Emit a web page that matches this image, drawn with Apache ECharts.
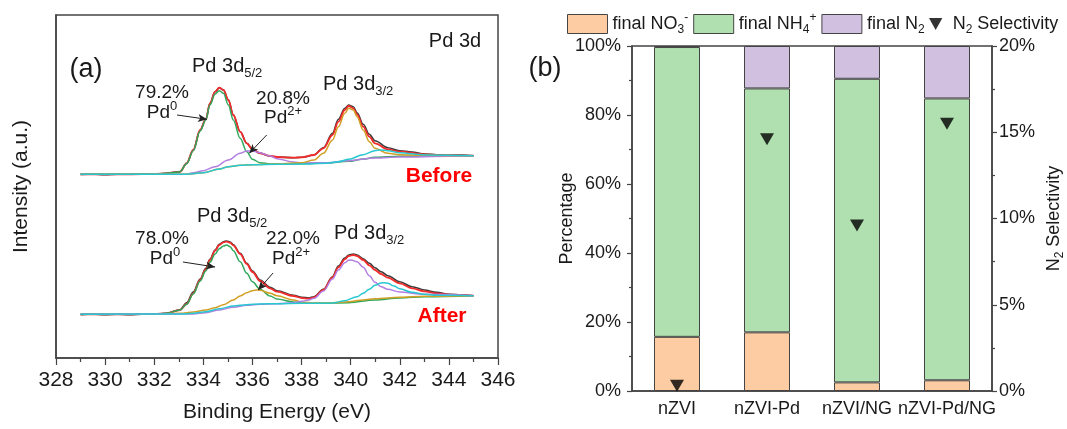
<!DOCTYPE html>
<html>
<head>
<meta charset="utf-8">
<script src="https://cdn.jsdelivr.net/npm/echarts@6/dist/echarts.min.js"></script>
<style>html,body{margin:0;padding:0;background:#fff}#c{width:1067px;height:429px}</style>
</head>
<body>
<div id="c"></div>
<script>
// ---------- Panel (a): XPS Pd 3d, [binding energy eV, intensity a.u.] ----------
const beforeRaw = [[329,183.5],[329.5,184],[330,183.3],[330.5,183.8],[331,183.7],[331.5,184],[332,183.7],[332.5,184.7],[333.05,186.3],[333.32,194.7],[333.59,208],[333.87,228],[334.1,238.7],[334.27,254.7],[334.48,266.3],[334.65,270.3],[334.82,268],[335.02,258],[335.22,243],[335.5,226.3],[335.77,214.7],[336,208.7],[336.31,204.7],[336.72,202],[337,201],[337.67,200.3],[338.01,200.7],[338.5,203],[338.89,210.3],[339.26,224.7],[339.5,238.7],[339.76,249.7],[339.92,253],[340.11,251.3],[340.26,245.3],[340.51,233.7],[340.76,223.7],[340.99,217.3],[341.51,210.3],[342,207.3],[342.5,206],[343,204],[343.5,203.3],[344,202.7],[344.5,203],[345,202.3]];
const beforeFit = [[329,183.7],[330,183.7],[331,183.7],[332,184],[332.5,184.7],[333.05,186.3],[333.32,194.7],[333.59,208],[333.87,228],[334.1,238.7],[334.27,254.7],[334.48,266.3],[334.65,270.3],[334.82,268],[335.02,258],[335.22,243],[335.5,226.3],[335.77,214.7],[336,208.7],[336.31,204.7],[336.72,202],[337,201],[337.67,200.3],[338.01,200.7],[338.5,203],[338.89,209.7],[339.26,223],[339.5,236.3],[339.76,248],[339.92,252],[340.11,249.7],[340.26,243.7],[340.51,231.3],[340.76,221.3],[340.99,214.7],[341.51,208.7],[342,206.3],[343,203.7],[344,202.7],[345,202.3]];
const beforePd0_52 = [[329,183.7],[332,184],[332.5,184.7],[333.05,186.3],[333.32,194.3],[333.59,207.3],[333.87,227],[334.1,238],[334.27,253],[334.48,264],[334.65,267.3],[334.82,264.7],[335.02,253],[335.22,238],[335.5,219.7],[335.77,206.3],[336,198.7],[336.31,195.3],[336.72,194],[337,194],[338.01,194.3],[339,195],[339.92,196.7],[340.51,199],[340.99,200.7],[342,201.7],[343,202],[345,202.3]];
const beforePd2_52 = [[329,183.7],[333.32,183.7],[333.59,185.3],[334,187.3],[334.48,191.3],[335.02,198],[335.5,204.7],[335.77,207],[336,207],[336.31,205.3],[336.72,202],[337,199.3],[337.67,196],[338.01,195],[339,195.3],[339.92,197.3],[340.99,200],[342,201],[344,201.7],[345,202]];
const beforePd0_32 = [[329,183.7],[333.32,183.7],[334,185.3],[334.65,189],[335.02,191.3],[335.5,192.7],[336,193.3],[337,194],[338.01,195.3],[338.5,198],[338.89,204.7],[339.26,218],[339.5,231.3],[339.76,244.7],[339.92,249.7],[340.11,248],[340.26,241.3],[340.51,228],[340.76,216.3],[340.99,209.7],[341.51,204.7],[342,203.3],[343,202.7],[345,202.3]];
const beforePd2_32 = [[329,183.7],[333.32,183.7],[334,185.3],[334.65,189],[335.02,191.3],[335.5,192.7],[336,193.3],[337,193.7],[338.01,194],[339,194.7],[339.5,196.3],[339.92,198.7],[340.51,203.3],[340.99,207.3],[341.2,208],[341.51,207.3],[342,205.3],[343,203],[345,202.3]];

const afterRaw = [[329,43.3],[329.5,44],[330,43.2],[330.5,43.7],[331,43.3],[331.5,43.8],[332,43.7],[332.5,44.7],[333.05,48.3],[333.32,55.3],[333.59,66],[333.87,79],[334.1,89.7],[334.27,98.7],[334.48,108],[334.65,113.7],[334.82,116.3],[334.95,117],[335.09,116],[335.22,113.3],[335.5,104.7],[335.77,94.7],[336,87],[336.31,78],[336.72,70.7],[337,67.3],[337.67,62.7],[338.01,60.7],[338.3,60],[338.5,61.3],[338.89,68.7],[339.26,81.3],[339.5,92],[339.76,100],[339.92,103],[340.11,104],[340.26,103],[340.51,99.3],[340.76,94.7],[340.99,90.3],[341.24,86.3],[341.51,82.3],[342,76.3],[342.5,71.3],[343,68],[343.5,65.7],[344,63.7],[344.5,63],[345,62.3]];
const afterFit = [[329,43.7],[330,43.7],[331,43.7],[332,44],[332.5,44.7],[333.05,48],[333.32,54],[333.59,64.7],[333.87,78],[334.1,88.7],[334.27,98],[334.48,107.3],[334.65,113],[334.82,115.7],[334.95,116.3],[335.09,115.3],[335.22,112.7],[335.5,104],[335.77,94],[336,86],[336.31,77],[336.72,69.7],[337,66.3],[337.67,62],[338.01,60],[338.3,59.3],[338.5,60.7],[338.89,68],[339.26,80.7],[339.5,90.7],[339.76,98.7],[339.92,102],[340.11,103],[340.26,102],[340.51,98],[340.76,92.7],[340.99,88],[341.24,84],[341.51,80.3],[342,74.7],[342.5,69.7],[343,66.7],[343.5,64.7],[344,63.3],[345,62.3]];
const afterPd0_52 = [[329,43.7],[332,44],[332.5,44.7],[333.05,48],[333.32,53.7],[333.59,64],[333.87,77],[334.1,87],[334.27,95.7],[334.48,104],[334.65,109.3],[334.82,112],[334.95,113],[335.09,111.3],[335.22,107.3],[335.5,96.3],[335.77,84.7],[336,76.3],[336.31,68.7],[336.72,62],[337,59],[337.67,56],[338.01,55],[339,54.7],[339.92,55.3],[340.99,58],[342,60],[343,61.3],[345,62.3]];
const afterPd2_52 = [[329,43.7],[332,44],[333.05,44.7],[333.59,46],[334.1,48],[334.48,50.3],[334.82,53.3],[335.22,58],[335.5,62],[335.77,65.3],[336,67.3],[336.2,68],[336.31,67.7],[336.72,64.7],[337,62.3],[337.67,58],[338.01,56],[338.5,55],[339.26,55.3],[339.92,56.3],[340.51,58],[340.99,59.3],[342,60.7],[343,61.7],[345,62.3]];
const afterPd0_32 = [[329,43.7],[333.59,44],[334.1,45.3],[334.65,48],[335.22,50.7],[335.77,52.7],[336.31,53.7],[337,54.3],[337.67,55.3],[338.01,56.7],[338.3,58],[338.5,59.7],[338.89,67],[339.26,79],[339.5,88],[339.76,95.3],[339.92,97.7],[340.02,98],[340.26,96.3],[340.51,90.7],[340.76,82.3],[340.99,75.7],[341.24,71.3],[341.51,68.7],[342,66],[343,63.7],[345,62.3]];
const afterPd2_32 = [[329,43.7],[333.05,44],[333.59,44.7],[334.1,46.3],[334.65,49.3],[335.22,52],[335.77,53.3],[336.31,54],[337,54.3],[338.01,54.7],[339.26,55],[339.76,57.3],[340.26,61.3],[340.51,64.7],[340.76,68.7],[340.99,72.7],[341.24,75],[341.37,75.3],[341.51,74.7],[341.76,72],[342,69.3],[342.5,65.7],[343,63.7],[343.5,62.7],[345,62.3]];

// annotation arrows (start, tip) in data coordinates
const arrowCoords = [
  [[332.93,243],[334.15,238.7]],
  [[336.58,223],[335.87,204.7]],
  [[333.17,96],[334.48,91]],
  [[336.84,85],[336.23,68]]
];

// ---------- Panel (b) ----------
const categories = ['nZVI','nZVI-Pd','nZVI/NG','nZVI-Pd/NG'];
const finalNO3 = [15.7, 17.0, 2.5, 3.1];
const finalNH4 = [84.0, 70.7, 88.0, 81.7];
const finalN2 = [0.3, 12.3, 9.5, 15.2];
const n2Selectivity = [0.3, 14.6, 9.6, 15.5];
const xTicksA = [328,330,332,334,336,338,340,342,344,346];

const FONT = '"Liberation Sans", Arial, Helvetica, sans-serif';
const TXT = '#1a1a1a';
const C = {raw:'#3c3c3c', fit:'#f22b2b', green:'#2fa85c', purple:'#b27fe2', gold:'#d09f24', cyan:'#27c8d2'};

function line(name, data, color, w, extra) {
  return Object.assign({
    type:'line', name, data, xAxisIndex:0, yAxisIndex:0, showSymbol:false, symbol:'none',
    smooth:0.35, smoothMonotone:'x', lineStyle:{color, width:w}, itemStyle:{color}, silent:true
  }, extra||{});
}

const chart = echarts.init(document.getElementById('c'), null, {renderer:'canvas'});

const richG = {
  m:{fontSize:20, lineHeight:28, fontFamily:FONT, fill:TXT, verticalAlign:'middle'},
  s:{fontSize:13, fontFamily:FONT, fill:TXT, verticalAlign:'bottom'},
  p:{fontSize:13, fontFamily:FONT, fill:TXT, verticalAlign:'top'}
};
const richPd = Object.assign({}, richG, {m:{fontSize:19, lineHeight:26, fontFamily:FONT, fill:TXT}});
function gtext(x, y, text, align, extra) {
  return {type:'text', x, y, silent:true, z:100,
    style:Object.assign({text, align:align||'center', verticalAlign:'middle', fill:TXT,
      fontFamily:FONT, fontSize:20, rich:richG}, extra||{})};
}

const richL = {
  a:{fontSize:18, fontFamily:FONT, color:TXT, lineHeight:24, verticalAlign:'middle'},
  s:{fontSize:12, fontFamily:FONT, color:TXT, verticalAlign:'bottom'},
  p:{fontSize:12, fontFamily:FONT, color:TXT, verticalAlign:'top'}
};

const option = {
  animation:false,
  backgroundColor:'#fff',
  textStyle:{fontFamily:FONT, color:TXT},
  grid:[
    {left:56, top:15, width:442, height:343, show:true, borderColor:'#444', borderWidth:1.5, backgroundColor:'transparent'},
    {left:632, top:46, width:364, height:345, show:true, borderColor:'#444', borderWidth:1.5, backgroundColor:'transparent'}
  ],
  xAxis:[
    {type:'value', gridIndex:0, min:328, max:346, interval:2,
     name:'Binding Energy (eV)', nameLocation:'middle', nameGap:44,
     nameTextStyle:{fontSize:21, color:TXT, fontFamily:FONT},
     axisLine:{lineStyle:{color:'#444', width:1.5}},
     axisTick:{show:true, length:7, lineStyle:{color:'#444', width:1.2}},
     minorTick:{show:true, splitNumber:2, length:4, lineStyle:{color:'#444', width:1.2}},
     axisLabel:{fontSize:21, color:TXT, margin:12, fontFamily:FONT, customValues: xTicksA},
     splitLine:{show:false}, minorSplitLine:{show:false}},
    {type:'category', gridIndex:1, data:categories, boundaryGap:true,
     axisLine:{lineStyle:{color:'#444', width:1.5}},
     axisTick:{show:false},
     axisLabel:{fontSize:18, color:TXT, margin:9, fontFamily:FONT, interval:0},
     splitLine:{show:false}}
  ],
  yAxis:[
    {type:'value', gridIndex:0, min:0, max:343,
     name:'Intensity (a.u.)', nameLocation:'middle', nameGap:24, nameRotate:90,
     nameTextStyle:{fontSize:21, color:TXT, fontFamily:FONT},
     axisLine:{show:true, lineStyle:{color:'#444', width:1.5}},
     axisTick:{show:false}, axisLabel:{show:false}, splitLine:{show:false}},
    {type:'value', gridIndex:1, min:0, max:100, interval:20, position:'left',
     name:'Percentage', nameLocation:'middle', nameGap:56, nameRotate:90, nameMoveOverlap:false,
     nameTextStyle:{fontSize:18, color:TXT, fontFamily:FONT},
     axisLine:{show:true, lineStyle:{color:'#444', width:1.5}},
     axisTick:{show:true, length:5, lineStyle:{color:'#444', width:1.2}},
     minorTick:{show:true, splitNumber:2, length:3, lineStyle:{color:'#444', width:1.2}},
     axisLabel:{fontSize:18, color:TXT, margin:11, fontFamily:FONT, formatter:'{value}%'},
     splitLine:{show:false}, minorSplitLine:{show:false}},
    {type:'value', gridIndex:1, min:0, max:20, interval:5, position:'right',
     name:'{a|N}{s|2}{a| Selectivity}', nameLocation:'middle', nameGap:50, nameRotate:90,
     nameTextStyle:{fontSize:18, color:TXT, fontFamily:FONT, rich:richL},
     axisLine:{show:true, lineStyle:{color:'#444', width:1.5}},
     axisTick:{show:true, length:5, lineStyle:{color:'#444', width:1.2}},
     minorTick:{show:true, splitNumber:2, length:3, lineStyle:{color:'#444', width:1.2}},
     axisLabel:{fontSize:18, color:TXT, margin:7, fontFamily:FONT, formatter:'{value}%'},
     splitLine:{show:false}, minorSplitLine:{show:false}}
  ],
  legend:[
    {data:['NO3','NH4','N2'], left:567, top:12, padding:0, itemWidth:40, itemHeight:19, itemGap:5,
     selectedMode:false, icon:'rect',
     itemStyle:{borderColor:'#444', borderWidth:1},
     formatter:function(n){
       if(n==='NO3') return '{a|final NO}{s|3}{p|-}';
       if(n==='NH4') return '{a|final NH}{s|4}{p|+}';
       return '{a|final N}{s|2}';
     },
     textStyle:{fontSize:18, color:TXT, fontFamily:FONT, rich:richL}},
    {data:[{name:'sel', icon:'path://M0,0L10,0L5,9Z'}], left:929, top:15, padding:0, itemWidth:14, itemHeight:12,
     selectedMode:false,
     formatter:function(){return '{a| N}{s|2}{a| Selectivity}';},
     textStyle:{fontSize:18, color:TXT, fontFamily:FONT, rich:richL}}
  ],
  series:[
    line('bRaw', beforeRaw, C.raw, 1.6),
    line('bFit', beforeFit, C.fit, 1.8, {markLine:{silent:true, symbol:['none','arrow'], symbolSize:[6,9],
      lineStyle:{color:'#222', width:1, type:'solid'}, label:{show:false},
      data:arrowCoords.map(a=>[{coord:a[0]},{coord:a[1]}])}}),
    line('bPd0_52', beforePd0_52, C.green, 1.5),
    line('bPd2_52', beforePd2_52, C.purple, 1.5),
    line('bPd0_32', beforePd0_32, C.gold, 1.5),
    line('bPd2_32', beforePd2_32, C.cyan, 1.5),
    line('aRaw', afterRaw, C.raw, 1.6),
    line('aFit', afterFit, C.fit, 1.8),
    line('aPd0_52', afterPd0_52, C.green, 1.5),
    line('aPd2_52', afterPd2_52, C.gold, 1.5),
    line('aPd0_32', afterPd0_32, C.purple, 1.5),
    line('aPd2_32', afterPd2_32, C.cyan, 1.5),
    {type:'bar', name:'NO3', xAxisIndex:1, yAxisIndex:1, stack:'p', data:finalNO3, barWidth:46,
     itemStyle:{color:'#fdcca2', borderColor:'#444', borderWidth:1}, silent:true},
    {type:'bar', name:'NH4', xAxisIndex:1, yAxisIndex:1, stack:'p', data:finalNH4, barWidth:46,
     itemStyle:{color:'#b0e0b0', borderColor:'#444', borderWidth:1}, silent:true},
    {type:'bar', name:'N2', xAxisIndex:1, yAxisIndex:1, stack:'p', data:finalN2, barWidth:46,
     itemStyle:{color:'#d1c0e0', borderColor:'#444', borderWidth:1}, silent:true},
    {type:'scatter', name:'sel', xAxisIndex:1, yAxisIndex:2, data:n2Selectivity,
     symbol:'triangle', symbolRotate:180, symbolSize:[14,12], z:10,
     itemStyle:{color:'#000'}, silent:true}
  ],
  graphic:[
    gtext(86, 70, '(a)', 'center', {fontSize:27}),
    gtext(545, 69, '(b)', 'center', {fontSize:27}),
    gtext(455, 41, 'Pd 3d', 'center'),
    gtext(192, 66, '{m|Pd 3d}{s|5/2}', 'left'),
    gtext(162, 93, '79.2%', 'center', {fontSize:19}),
    gtext(162, 113, '{m|Pd}{p|0}', 'center', {rich:richPd}),
    gtext(283, 99, '20.8%', 'center', {fontSize:19}),
    gtext(283, 118, '{m|Pd}{p|2+}', 'center', {rich:richPd}),
    gtext(323, 84, '{m|Pd 3d}{s|3/2}', 'left'),
    gtext(439, 176, 'Before', 'center', {fontSize:21, fontWeight:'bold', fill:'#ff0000'}),
    gtext(197, 216, '{m|Pd 3d}{s|5/2}', 'left'),
    gtext(162, 239, '78.0%', 'center', {fontSize:19}),
    gtext(165, 259, '{m|Pd}{p|0}', 'center', {rich:richPd}),
    gtext(293, 239, '22.0%', 'center', {fontSize:19}),
    gtext(291, 259, '{m|Pd}{p|2+}', 'center', {rich:richPd}),
    gtext(334, 233, '{m|Pd 3d}{s|3/2}', 'left'),
    gtext(442, 316, 'After', 'center', {fontSize:21, fontWeight:'bold', fill:'#ff0000'})
  ]
};
chart.setOption(option);
</script>
</body>
</html>
